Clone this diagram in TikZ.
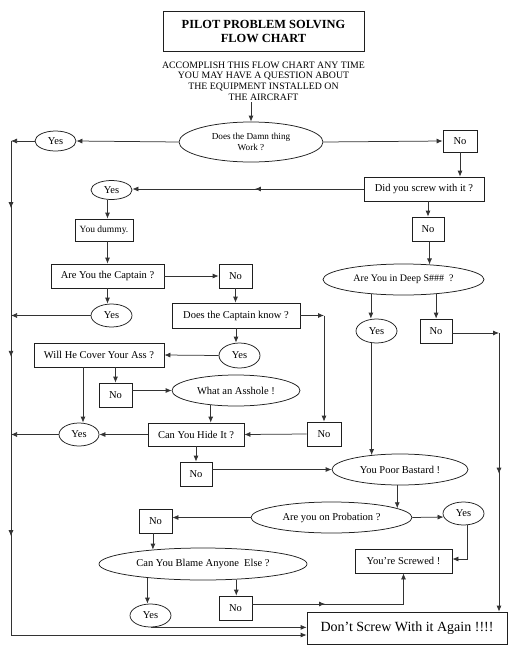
\documentclass[tikz,border=0pt]{standalone}
\usepackage{fontspec}
\setmainfont{Liberation Serif}
\usetikzlibrary{shapes.geometric,arrows.meta,decorations.markings}
\newcommand\flowfont{\fontsize{10.5}{12}\selectfont}
\newcommand\flowtip{\arrow{Latex[length=6pt,width=5pt]}}
\tikzset{
  ln/.style={draw=black!80, line width=0.75pt},
  arr/.style={ln, -{Latex[length=6pt,width=5pt]}},
  box/.style={draw=black!88, line width=0.75pt, rectangle, inner sep=0pt, font=\flowfont},
  oval/.style={draw=black!88, line width=0.75pt, ellipse, inner sep=0pt, font=\flowfont},
  midtip/.style={postaction={decorate}, decoration={markings, mark=at position #1 with {\flowtip}}},
}
\begin{document}
\begin{tikzpicture}[x=1pt,y=-1pt]
\useasboundingbox (0,0) rectangle (517,659);

% title and intro
\node[box, minimum width=201pt, minimum height=40pt, align=center,
      font=\bfseries\fontsize{12.4}{14}\selectfont] (title) at (263.5,31) {PILOT PROBLEM SOLVING\\FLOW CHART};
\node[align=center, inner sep=2pt, font=\fontsize{9.8}{10.6}\selectfont] (sub) at (263.5,81)
  {ACCOMPLISH THIS FLOW CHART ANY TIME\\YOU MAY HAVE A QUESTION ABOUT\\THE EQUIPMENT INSTALLED ON\\THE AIRCRAFT};

% nodes
\node[oval, minimum width=144pt, minimum height=40pt, align=center, font=\fontsize{9.2}{11.5}\selectfont] (damn) at (251,142) {Does the Damn thing\\Work ?};
\node[oval, minimum width=41pt, minimum height=20pt] (yes1) at (55.5,141) {Yes};
\node[box, minimum width=34pt, minimum height=22pt] (no1) at (460,141) {No};
\node[box, minimum width=120pt, minimum height=24pt] (screw) at (424,189) {Did you screw with it ?};
\node[oval, minimum width=41pt, minimum height=19pt] (yes2) at (111.5,190) {Yes};
\node[box, minimum width=58pt, minimum height=22pt, font=\fontsize{9.5}{11}\selectfont] (dummy) at (104,230) {You dummy.};
\node[box, minimum width=113pt, minimum height=24pt] (captain) at (107.5,276) {Are You the Captain ?};
\node[box, minimum width=33pt, minimum height=24pt] (no2) at (235.5,276) {No};
\node[oval, minimum width=41pt, minimum height=23pt] (yes3) at (111.5,315.5) {Yes};
\node[box, minimum width=128pt, minimum height=25pt] (know) at (236,315.5) {Does the Captain know ?};
\node[box, minimum width=32pt, minimum height=24pt] (no3) at (428,229) {No};
\node[oval, minimum width=161pt, minimum height=31pt, font=\fontsize{10}{12}\selectfont] (deep) at (403.5,279.5) {Are You in Deep S\#\#\#\ \ ?};
\node[oval, minimum width=41pt, minimum height=24pt] (yes4) at (376.5,331) {Yes};
\node[box, minimum width=32pt, minimum height=24pt] (no4) at (436,331) {No};
\node[oval, minimum width=41pt, minimum height=25pt] (yes5) at (239.5,355.5) {Yes};
\node[box, minimum width=130pt, minimum height=24pt] (willhe) at (99,355) {Will He Cover Your Ass ?};
\node[box, minimum width=33pt, minimum height=24pt] (no5) at (115.5,395) {No};
\node[oval, minimum width=128pt, minimum height=31pt] (asshole) at (236,390.5) {What an Asshole !};
\node[box, minimum width=96pt, minimum height=23pt] (hide) at (196,434.5) {Can You Hide It ?};
\node[box, minimum width=34pt, minimum height=24pt] (no6) at (324,434) {No};
\node[oval, minimum width=40pt, minimum height=23pt] (yes6) at (79,434.5) {Yes};
\node[box, minimum width=32pt, minimum height=24pt] (no7) at (196,474) {No};
\node[oval, minimum width=136pt, minimum height=31pt] (bastard) at (400,469.5) {You Poor Bastard !};
\node[oval, minimum width=161pt, minimum height=31pt] (probation) at (331.5,517.5) {Are you on Probation ?};
\node[oval, minimum width=41pt, minimum height=23pt] (yes7) at (463.5,513.5) {Yes};
\node[box, minimum width=97pt, minimum height=24pt] (screwed) at (403.5,561) {You're Screwed !};
\node[box, minimum width=33pt, minimum height=24pt] (no8) at (155.5,521) {No};
\node[oval, minimum width=208pt, minimum height=32pt] (blame) at (203,564) {Can You Blame Anyone\ \ Else ?};
\node[oval, minimum width=41pt, minimum height=23pt] (yes8) at (150.5,615.5) {Yes};
\node[box, minimum width=33pt, minimum height=24pt] (no9) at (235.5,608) {No};
\node[box, minimum width=200pt, minimum height=32pt, font=\fontsize{14}{16}\selectfont] (again) at (407,628) {Don't Screw With it Again !!!!};

% helper corners
\coordinate (lt) at (11,141);
\coordinate (lb) at (11,635);
\coordinate (rt) at (499,333);
\coordinate (ck) at (know.east -| no6.north);
\coordinate (nb) at ([yshift=4pt]no9.east);

% connectors
\draw[arr] (damn.north |- sub.south) -- (damn.north);
\draw[arr] (damn.west) -- (yes1.east);
\draw[arr] (yes1.west) -- (lt);
\draw[ln, postaction={decorate}, decoration={markings,
    mark=at position 0.136 with {\flowtip},
    mark=at position 0.437 with {\flowtip},
    mark=at position 0.80 with {\flowtip}}] (lt) -- (lb);
\draw[arr] (lb) -- (lb -| again.west);
\draw[arr] (damn.east) -- (no1.west);
\draw[arr] (no1.south) -- (no1.south |- screw.north);
\draw[arr, midtip=0.47] (screw.west) -- (screw.west -| yes2.east);
\draw[arr] (yes2.south -| captain.north) -- (dummy.north -| captain.north);
\draw[arr] (dummy.south -| captain.north) -- (captain.north);
\draw[arr] (captain.east) -- (no2.west);
\draw[arr] (captain.south) -- (captain.south |- yes3.north);
\draw[arr] (yes3.west) -- (lt |- yes3.west);
\draw[arr] (no2.south) -- (no2.south |- know.north);
\draw[arr] (know.east) -- (ck);
\draw[arr] (ck) -- (no6.north);
\draw[arr] (know.south) -- (know.south |- yes5.north);
\draw[arr] (yes5.west) -- (willhe.east);
\draw[arr] (no5.north |- willhe.south) -- (no5.north);
\draw[arr] ([xshift=4pt]yes6.north |- willhe.south) -- ([xshift=4pt]yes6.north);
\draw[arr] (no5.east |- asshole.west) -- (asshole.west);
\draw[arr] (asshole.210) -- (asshole.210 |- hide.north);
\draw[arr] (no6.west) -- (hide.east);
\draw[arr] (hide.west) -- (yes6.east);
\draw[arr] (yes6.west) -- (lt |- yes6.west);
\draw[arr] (hide.south) -- (no7.north);
\draw[arr] (no7.east |- bastard.west) -- (bastard.west);
\draw[arr] (no3.north |- screw.south) -- (no3.north);
\draw[arr] (deep.30 |- no3.south) -- (deep.30);
\draw[arr] (deep.204) -- (deep.204 |- yes4.north);
\draw[arr] (deep.336) -- (deep.336 |- no4.north);
\draw[arr] (no4.east |- rt) -- (rt);
\draw[arr, midtip=0.505] (rt) -- (rt |- again.north);
\draw[arr] (bastard.153 |- yes4.south) -- (bastard.153);
\draw[arr] (probation.8 |- bastard.south) -- (probation.8);
\draw[arr] (probation.east) -- (yes7.190);
\draw[arr] ([xshift=4pt]yes7.south) |- ([yshift=2pt]screwed.east);
\draw[arr] (probation.west) -- (probation.west -| no8.east);
\draw[arr] (blame.164 |- no8.south) -- (blame.164);
\draw[arr] (blame.194) -- (blame.194 |- yes8.north);
\draw[arr] (blame.335) -- (blame.335 |- no9.north);
\draw[arr, midtip=0.40] (nb) -| (screwed.south);
\draw[arr] (yes8.south) -- (yes8.south -| again.west);
\end{tikzpicture}
\end{document}
